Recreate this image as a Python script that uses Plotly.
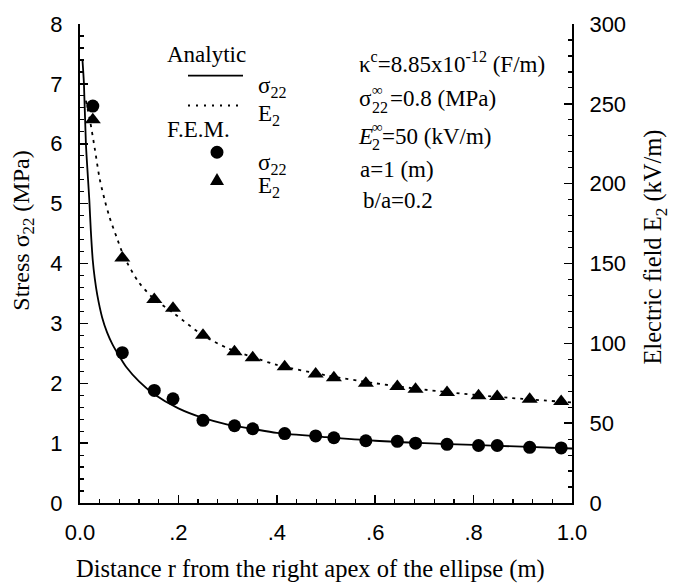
import plotly.graph_objects as go

# ---------------- data ----------------
# F.E.M. nodes (distance r from the right apex, m)
r_fem = [0.026, 0.086, 0.151, 0.189, 0.25, 0.314, 0.351, 0.416, 0.479, 0.516,
         0.581, 0.645, 0.682, 0.746, 0.81, 0.848, 0.914, 0.978]
stress_fem = [6.63, 2.51, 1.88, 1.74, 1.38, 1.29, 1.24, 1.16, 1.12, 1.09,
              1.04, 1.03, 1.00, 0.98, 0.96, 0.96, 0.93, 0.92]          # MPa
efield_fem = [240, 153.5, 127.5, 122, 105, 94.8, 91, 85.4, 80.8, 78.5,
              75, 72.9, 71.2, 69.2, 67.1, 66.7, 65.0, 63.5]            # kV/m

# Analytic curves
r_an_stress = [0.005, 0.008, 0.012, 0.016, 0.019, 0.022, 0.026, 0.03, 0.035, 0.045,
               0.055, 0.066, 0.08, 0.094, 0.12, 0.15, 0.2, 0.25, 0.3, 0.35,
               0.4, 0.5, 0.6, 0.7, 0.8, 0.9, 1.0]
stress_an = [7.4, 7.0, 6.0, 5.45, 5.05, 4.55, 4.05, 3.75, 3.48, 3.1,
             2.85, 2.65, 2.45, 2.27, 2.03, 1.82, 1.58, 1.42, 1.31, 1.24,
             1.17, 1.10, 1.04, 1.00, 0.97, 0.94, 0.91]
r_an_e = [0.012, 0.02, 0.03, 0.04, 0.05, 0.06, 0.075, 0.09, 0.12, 0.15,
          0.19, 0.25, 0.3, 0.35, 0.4, 0.5, 0.6, 0.7, 0.8, 0.9, 1.0]
efield_an = [252, 240, 222, 203, 190, 179, 166, 154, 138, 128,
             119, 105, 97, 91.5, 86.5, 80, 75, 71, 67.8, 65.2, 63]

# Axis ticks
x_tick_vals = [0, 0.2, 0.4, 0.6, 0.8, 1.0]
x_tick_text = ["0.0", ".2", ".4", ".6", ".8", "1.0"]
y_tick_vals = [0, 1, 2, 3, 4, 5, 6, 7, 8]
y2_tick_vals = [0, 50, 100, 150, 200, 250, 300]

# ---------------- figure ----------------
SERIF = "Liberation Serif"
SANS = "Liberation Sans"
W, H = 674, 588
ML, MR, MT, MB = 80, 102, 21, 85
PW, PH = W - ML - MR, H - MT - MB


def px(x):
    return (x - ML) / PW


def py(y):
    return (H - MB - y) / PH


fig = go.Figure()
fig.add_trace(go.Scatter(x=r_an_stress, y=stress_an, mode="lines",
                         line=dict(color="black", width=1.8, shape="spline", smoothing=0.8),
                         showlegend=False, yaxis="y", hoverinfo="skip"))
fig.add_trace(go.Scatter(x=r_an_e, y=efield_an, mode="lines",
                         line=dict(color="black", width=1.8, dash="3px,5px", shape="spline", smoothing=0.8),
                         showlegend=False, yaxis="y2", hoverinfo="skip"))
fig.add_trace(go.Scatter(x=r_fem, y=stress_fem, mode="markers",
                         marker=dict(symbol="circle", size=13, color="black"),
                         showlegend=False, yaxis="y", cliponaxis=False))
fig.add_trace(go.Scatter(x=r_fem, y=efield_fem, mode="markers",
                         marker=dict(symbol="triangle-up", size=14, color="black"),
                         showlegend=False, yaxis="y2", cliponaxis=False))

axis_common = dict(showgrid=False, zeroline=False, showline=True, linecolor="black",
                   linewidth=2, ticks="inside", ticklen=8, tickwidth=1.5, tickcolor="black",
                   tickfont=dict(family=SANS, size=22, color="black"))

fig.update_layout(
    width=W, height=H,
    margin=dict(l=ML, r=MR, t=MT, b=MB, pad=0),
    paper_bgcolor="white", plot_bgcolor="white",
    showlegend=False,
    xaxis=dict(range=[0, 1], tickvals=x_tick_vals, ticktext=x_tick_text,
               ticklabelstandoff=9,
               minor=dict(dtick=0.04, ticks="inside", ticklen=4, tickcolor="black", tickwidth=1.2),
               **axis_common),
    yaxis=dict(range=[0, 8], tickvals=y_tick_vals, ticklabelstandoff=11,
               minor=dict(dtick=0.2, ticks="inside", ticklen=4, tickcolor="black", tickwidth=1.2),
               **axis_common),
    yaxis2=dict(range=[0, 300], tickvals=y2_tick_vals, overlaying="y", side="right",
                ticklabelstandoff=11,
                minor=dict(dtick=10, ticks="inside", ticklen=4, tickcolor="black", tickwidth=1.2),
                **axis_common),
)

ann = []


def text(x, y, s, size=23, xanchor="left", angle=0):
    ann.append(dict(x=px(x), y=py(y), xref="paper", yref="paper", text=s, showarrow=False,
                    xanchor=xanchor, yanchor="middle", textangle=angle, borderpad=0,
                    font=dict(family=SERIF, size=size, color="black")))


# axis titles
text(310, 569, "Distance r from the right apex of the ellipse (m)", size=24.5, xanchor="center")
text(23, 229, "Stress σ<sub>22</sub> (MPa)", size=24, xanchor="center", angle=-90)
text(655, 246, "Electric field E<sub>2</sub> (kV/m)", size=24.5, xanchor="center", angle=-90)

# legend block
text(166, 52, "Analytic")
text(257, 84, "σ<sub>22</sub>")
text(257, 113, "E<sub>2</sub>")
text(166, 127, "F.E.M.")
text(257, 162, "σ<sub>22</sub>")
text(257, 185, "E<sub>2</sub>")

# parameters block
text(358, 60, "κ<sup>c</sup>=8.85x10<sup>-12</sup> (F/m)")
text(358, 96, "σ")
text(371, 87, "∞", size=15)
text(371, 105, "22", size=16)
text(389, 96, "=0.8 (MPa)")
text(357, 134, "<i>E</i>")
text(371, 125, "∞", size=15)
text(371, 142, "2", size=16)
text(381, 134, "=50 (kV/m)")
text(359, 167, "a=1 (m)")
text(362, 199, "b/a=0.2")

fig.update_layout(annotations=ann)

# legend samples
shapes = [
    dict(type="line", xref="paper", yref="paper", x0=px(188), x1=px(243), y0=py(73), y1=py(73),
         line=dict(color="black", width=1.8)),
    dict(type="line", xref="paper", yref="paper", x0=px(188), x1=px(241), y0=py(103), y1=py(103),
         line=dict(color="black", width=1.8, dash="2px,6px")),
    dict(type="circle", xref="paper", yref="paper", x0=px(210.5), x1=px(223.5), y0=py(156.5), y1=py(143.5),
         fillcolor="black", line=dict(color="black", width=0)),
    dict(type="path", xref="paper", yref="paper",
         path=f"M {px(210)},{py(183)} L {px(224)},{py(183)} L {px(217)},{py(171)} Z",
         fillcolor="black", line=dict(color="black", width=0)),
]
fig.update_layout(shapes=shapes)

fig.write_html("out.html", config={"displayModeBar": False, "staticPlot": True},
               post_script="document.body.style.margin='0';document.body.style.padding='0';")
